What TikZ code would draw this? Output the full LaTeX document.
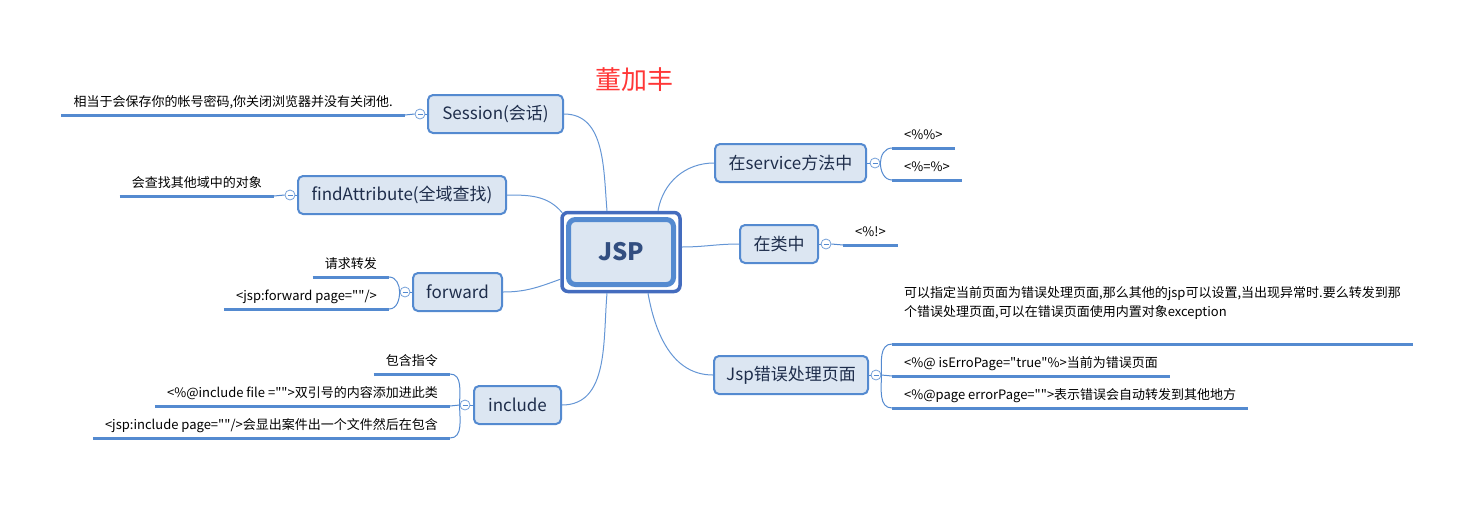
\documentclass[tikz,border=0pt]{standalone}
\usepackage{fontspec}
\setmainfont[Ligatures=TeXOff]{Noto Sans CJK SC}

\definecolor{topicfill}{RGB}{220,230,242}
\definecolor{topicline}{RGB}{84,138,208}
\definecolor{framedark}{RGB}{68,108,190}
\definecolor{topictext}{RGB}{30,45,75}
\definecolor{jsptext}{RGB}{50,78,128}
\definecolor{titlered}{RGB}{255,55,55}

\begin{document}
\begin{tikzpicture}[x=1pt,y=1pt,
    topic/.style={draw=topicline,line width=2pt,fill=topicfill,rounded corners=5pt,
        minimum height=38pt,inner xsep=6pt,text=topictext,
        font={\fontsize{17}{20}\selectfont}},
    leaf/.style={inner xsep=12pt,inner ysep=5.5pt,text height=10pt,text depth=2.5pt,
        font={\fontsize{13}{19}\selectfont}},
    leafline/.style={draw=topicline,line width=3pt},
    twig/.style={draw=topicline,line width=1pt},
    branch/.style={draw=topicline!90,line width=1pt},
    fold/.style={circle,draw=topicline!80,fill=white,line width=0.8pt,
        minimum size=10pt,inner sep=0pt,
        path picture={\draw[topicline,line width=0.8pt]
            ([xshift=2.5pt]path picture bounding box.west) --
            ([xshift=-2.5pt]path picture bounding box.east);}},
    ]
    % Canvas
    \useasboundingbox (0,0) rectangle (1459,-515);

    % Title
    \node[text=titlered,font={\fontsize{26}{30}\selectfont}] (author) at (634,-80) {董加丰};

    % Central topic
    \node[draw=framedark,line width=3.5pt,rounded corners=6pt,
        minimum width=118pt,minimum height=79pt] (jspout) at (621,-252) {};
    \node[topic,line width=5pt,rounded corners=7pt,minimum width=105pt,minimum height=65pt,
        text=jsptext,font={\fontsize{24}{28}\selectfont\bfseries}] (jsp) at (621,-252) {JSP};

    % Topics
    \node[topic,minimum width=135pt] (sess) at (495.5,-114) {Session(会话)};
    \node[topic,minimum width=208pt] (find) at (402,-195) {findAttribute(全域查找)};
    \node[topic,minimum width=89pt] (fwd) at (457.5,-292) {forward};
    \node[topic,minimum width=87pt] (incl) at (517.5,-405) {include};
    \node[topic,minimum width=151pt] (svc) at (790.5,-163) {在service方法中};
    \node[topic,minimum width=78pt] (cls) at (779,-244) {在类中};
    \node[topic,minimum width=154pt] (err) at (791,-375) {Jsp错误处理页面};

    % Branches
    \draw[branch] ([xshift=-14pt]jspout.north) to[out=95,in=0] (sess.east);
    \draw[branch] ([xshift=2pt,yshift=-2pt]jspout.north west) to[out=130,in=0] (find.east);
    \draw[branch] ([yshift=14pt]jspout.south west) to[out=200,in=0] (fwd.east);
    \draw[branch] ([xshift=-14pt]jspout.south) to[out=-95,in=0] (incl.east);
    \draw[branch] ([xshift=37pt]jspout.north) to[out=80,in=180] (svc.west);
    \draw[branch] ([yshift=5pt]jspout.east) to[out=0,in=180] (cls.west);
    \draw[branch] ([xshift=27pt]jspout.south) to[out=-80,in=180] (err.west);

    % Fold markers
    \node[fold] (fsess) at (420,-114) {};
    \node[fold] (ffind) at (290,-195) {};
    \node[fold] (ffwd) at (405,-292) {};
    \node[fold] (fincl) at (465,-405) {};
    \node[fold] (fsvc) at (875,-163) {};
    \node[fold] (fcls) at (826,-244) {};
    \node[fold] (ferr) at (876,-375) {};
    \draw[twig] (sess.west) -- (fsess.east);
    \draw[twig] (find.west) -- (ffind.east);
    \draw[twig] (fwd.west) -- (ffwd.east);
    \draw[twig] (incl.west) -- (fincl.east);
    \draw[twig] (svc.east) -- (fsvc.west);
    \draw[twig] (cls.east) -- (fcls.west);
    \draw[twig] (err.east) -- (ferr.west);

    % Session
    \node[leaf,anchor=south east] (sess1) at (405,-115) {相当于会保存你的帐号密码,你关闭浏览器并没有关闭他.};
    \draw[leafline] (sess1.south west) -- (sess1.south east);
    \draw[twig] (fsess.west) -- (sess1.south east);

    % findAttribute
    \node[leaf,anchor=south east] (find1) at (274,-196) {会查找其他域中的对象};
    \draw[leafline] (find1.south west) -- (find1.south east);
    \draw[twig] (ffind.west) -- (find1.south east);

    % forward
    \node[leaf,anchor=south east] (fwd1) at (389,-277) {请求转发};
    \node[leaf,anchor=south east] (fwd2) at (389,-309) {<jsp:forward page=""/>};
    \foreach \n in {fwd1,fwd2}
        \draw[leafline] (\n.south west) -- (\n.south east);
    \draw[twig] (ffwd.west) to[out=90,in=0] (fwd1.south east);
    \draw[twig] (ffwd.west) to[out=-90,in=0] (fwd2.south east);

    % include
    \node[leaf,anchor=south east] (incl1) at (450,-374) {包含指令};
    \node[leaf,anchor=south east] (incl2) at (450,-406) {<\%@include file ="">双引号的内容添加进此类};
    \node[leaf,anchor=south east] (incl3) at (450,-438) {<jsp:include page=""/>会显出案件出一个文件然后在包含};
    \foreach \n in {incl1,incl2,incl3}
        \draw[leafline] (\n.south west) -- (\n.south east);
    \draw[twig] (fincl.west) to[out=90,in=0] (incl1.south east);
    \draw[twig] (fincl.west) -- (incl2.south east);
    \draw[twig] (fincl.west) to[out=-90,in=0] (incl3.south east);

    % service
    \node[leaf,anchor=south west] (svc1) at (892,-148) {<\%\%>};
    \node[leaf,anchor=south west] (svc2) at (892,-180) {<\%=\%>};
    \foreach \n in {svc1,svc2}
        \draw[leafline] (\n.south west) -- (\n.south east);
    \draw[twig] (fsvc.east) to[out=90,in=180] (svc1.south west);
    \draw[twig] (fsvc.east) to[out=-90,in=180] (svc2.south west);

    % class
    \node[leaf,anchor=south west] (cls1) at (843,-245) {<\%!>};
    \draw[leafline] (cls1.south west) -- (cls1.south east);
    \draw[twig] (fcls.east) -- (cls1.south west);

    % error page
    \node[leaf,anchor=south west,align=left,text depth=21.5pt] (err1) at (892,-344)
        {可以指定当前页面为错误处理页面,那么其他的jsp可以设置,当出现异常时.要么转发到那\\个错误处理页面,可以在错误页面使用内置对象exception};
    \node[leaf,anchor=south west] (err2) at (892,-376) {<\%@ isErroPage="true"\%>当前为错误页面};
    \node[leaf,anchor=south west] (err3) at (892,-408) {<\%@page errorPage="">表示错误会自动转发到其他地方};
    \foreach \n in {err1,err2,err3}
        \draw[leafline] (\n.south west) -- (\n.south east);
    \draw[twig] (ferr.east) to[out=90,in=180] (err1.south west);
    \draw[twig] (ferr.east) -- (err2.south west);
    \draw[twig] (ferr.east) to[out=-90,in=180] (err3.south west);

\end{tikzpicture}
\end{document}
